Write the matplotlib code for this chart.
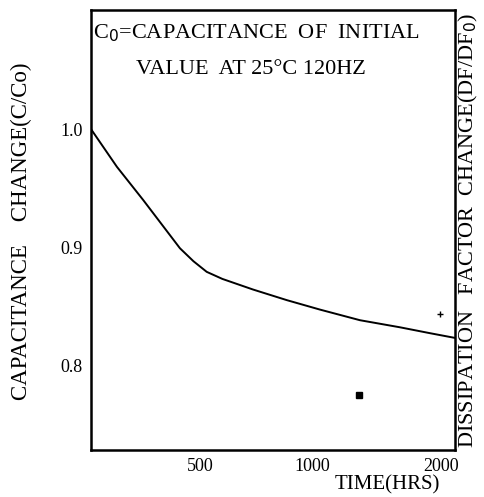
import numpy as np
import matplotlib
matplotlib.use('Agg')
import matplotlib.pyplot as plt

# capacitance ratio vs. time
hours = [0, 119, 239, 408, 470, 530, 600, 737, 888, 1062, 1372, 1682, 1915, 2100]
cap_ratio = [1.0, 0.968, 0.940, 0.899, 0.888, 0.879, 0.873, 0.864, 0.855, 0.847, 0.838, 0.832, 0.827, 0.823]

# stray marks on the scan
dot_hours = [1364]
dot_ratio = [0.775]
plus_hours = [1992]
plus_ratio = [0.843]

x_ticks = [500, 1000, 2000]
x_ticklabels = ['500', '1000', '2000']
y_ticks = [1.0, 0.9, 0.8]
y_ticklabels = ['1.0', '0.9', '0.8']

# the printed time axis is not evenly spaced
scale_hrs = [0, 500, 1000, 2000, 2100]
scale_pos = [0, 109, 221, 350, 364]

def fwd(h):
    return np.interp(h, scale_hrs, scale_pos)

def inv(p):
    return np.interp(p, scale_pos, scale_hrs)

plt.rcParams['font.family'] = ['Liberation Serif', 'DejaVu Serif']

fig = plt.figure(figsize=(4.84, 4.97), dpi=100)
ax = fig.add_axes([0.188, 0.0946, 0.752, 0.8854])

ax.set_xscale('function', functions=(fwd, inv))
ax.plot(hours, cap_ratio, color='black', linewidth=1.4)
ax.plot(dot_hours, dot_ratio, marker='s', markersize=5, color='black', linestyle='none')
ax.plot(plus_hours, plus_ratio, marker='+', markersize=4, color='black', linestyle='none')

ax.set_xlim(0, 2100)
ax.set_ylim(0.728, 1.101)
ax.set_xticks(x_ticks)
ax.set_xticklabels(x_ticklabels, fontsize=13)
ax.set_yticks(y_ticks)
ax.set_yticklabels(y_ticklabels, fontsize=13)
ax.tick_params(axis='both', length=0, pad=6)

for s in ax.spines.values():
    s.set_linewidth(1.8)
    s.set_color('black')

ax.text(0.005, 0.948, 'C$_0$=CAPACITANCE  OF  INITIAL', transform=ax.transAxes,
        fontsize=16, ha='left', va='center')
ax.text(0.44, 0.864, 'VALUE  AT 25\u00b0C 120HZ', transform=ax.transAxes,
        fontsize=16, ha='center', va='center')

fig.text(0.045, 0.535, 'CAPACITANCE    CHANGE(C/Co)', rotation=90,
         fontsize=16.5, ha='center', va='center')
fig.text(0.967, 0.537, 'DISSIPATION   FACTOR  CHANGE(DF/DF$_0$)', rotation=90,
         fontsize=16, ha='center', va='center')
fig.text(0.80, 0.024, 'TIME(HRS)', fontsize=15, ha='center', va='center')

plt.savefig('out.png', dpi=100)
plt.close()
